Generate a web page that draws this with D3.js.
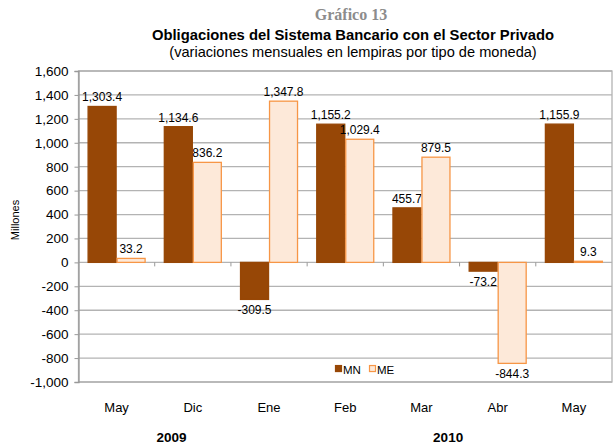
<!DOCTYPE html>
<html>
<head>
<meta charset="utf-8">
<script src="https://cdn.jsdelivr.net/npm/d3@7"></script>
<style>
  body { margin: 0; background: #fff; }
  svg { font-family: "Liberation Sans", Arial, sans-serif; }
</style>
</head>
<body>
<div id="chart"></div>
<script>
const months = ["May", "Dic", "Ene", "Feb", "Mar", "Abr", "May"];
const mnValues = [1303.4, 1134.6, -309.5, 1155.2, 455.7, -73.2, 1155.9];
const meValues = [33.2, 836.2, 1347.8, 1029.4, 879.5, -844.3, 9.3];
const yTicks = [-1000, -800, -600, -400, -200, 0, 200, 400, 600, 800, 1000, 1200, 1400, 1600];
// year labels, placed in category units along the x axis
const years = [{ label: "2009", at: 1.22 }, { label: "2010", at: 4.85 }];

const width = 616, height = 446;
const margin = { top: 71, right: 4, bottom: 64, left: 78.5 };
const w = width - margin.left - margin.right;
const h = height - margin.top - margin.bottom;

const colMN = "#974706", colMEfill = "#fde9d9", colMEstroke = "#f79646", grid = "#b3b3b3";

const locale = d3.formatLocale({ decimal: ".", thousands: ",", grouping: [3], currency: ["", ""], minus: "-" });

const svg = d3.select("#chart").append("svg")
    .attr("width", width)
    .attr("height", height);

// titles
svg.append("text").attr("x", 351).attr("y", 20).attr("text-anchor", "middle")
    .style("font-family", "'Liberation Serif', 'Times New Roman', serif")
    .style("font-weight", "bold").style("font-size", "16px").attr("fill", "#8c8c8c")
    .text("Gráfico 13");
svg.append("text").attr("x", 353).attr("y", 40).attr("text-anchor", "middle")
    .style("font-weight", "bold").style("font-size", "14.8px").attr("fill", "#000")
    .text("Obligaciones del Sistema Bancario con el Sector Privado");
svg.append("text").attr("x", 353).attr("y", 57).attr("text-anchor", "middle")
    .style("font-size", "14.6px").attr("fill", "#000")
    .text("(variaciones mensuales en lempiras por tipo de moneda)");

const g = svg.append("g").attr("transform", "translate(" + margin.left + "," + margin.top + ")");

const x = d3.scaleBand().domain(d3.range(months.length)).range([0, w]);
const y = d3.scaleLinear().domain([-1000, 1600]).range([h, 0]);
const bw = 29;
const pad = (x.bandwidth() - 2 * bw) / 2;

// gridlines
g.append("g").selectAll("line").data(yTicks).join("line")
    .attr("x1", 0).attr("x2", w)
    .attr("y1", d => y(d)).attr("y2", d => y(d))
    .attr("stroke", grid).attr("stroke-width", 1.3);

// frame right / top / bottom
g.append("rect").attr("x", 0).attr("y", 0).attr("width", w).attr("height", h)
    .attr("fill", "none").attr("stroke", grid).attr("stroke-width", 1.3);

// y axis
const yAxis = g.append("g")
    .call(d3.axisLeft(y).tickValues(yTicks).tickSize(4).tickPadding(6).tickFormat(locale.format(",")));
yAxis.select(".domain").attr("stroke", "#999").attr("stroke-width", 1.3);
yAxis.selectAll(".tick line").attr("stroke", "#999");
yAxis.selectAll("text").style("font-size", "13.5px").attr("fill", "#000");

// category ticks on zero line
g.append("g").selectAll("line").data(d3.range(1, months.length)).join("line")
    .attr("x1", d => x(d)).attr("x2", d => x(d))
    .attr("y1", y(0)).attr("y2", y(0) + 4)
    .attr("stroke", "#999");

// bars
const series = [
    { key: "MN", values: mnValues, off: 0, fill: colMN, stroke: colMN },
    { key: "ME", values: meValues, off: 1, fill: colMEfill, stroke: colMEstroke }
];
const fmt = locale.format(",.1f");

series.forEach(s => {
    const sg = g.append("g");
    sg.selectAll("rect").data(s.values).join("rect")
        .attr("x", (d, i) => x(i) + pad + s.off * bw + 0.5)
        .attr("width", bw - 1)
        .attr("y", d => y(Math.max(0, d)))
        .attr("height", d => Math.abs(y(d) - y(0)))
        .attr("fill", s.fill)
        .attr("stroke", s.stroke).attr("stroke-width", 1.3);
    sg.selectAll("text").data(s.values).join("text")
        .attr("x", (d, i) => x(i) + pad + s.off * bw + bw / 2)
        .attr("y", d => d >= 0 ? y(d) - 5 : y(d) + 15)
        .attr("text-anchor", "middle")
        .style("font-size", "12px").attr("fill", "#000")
        .text(d => fmt(d));
});

// x labels
g.append("g").selectAll("text").data(months).join("text")
    .attr("x", (d, i) => x(i) + x.bandwidth() / 2)
    .attr("y", h + 30)
    .attr("text-anchor", "middle")
    .style("font-size", "13px").attr("fill", "#000")
    .text(d => d);

// year labels
g.append("g").selectAll("text").data(years).join("text")
    .attr("x", d => d.at * x.step())
    .attr("y", h + 60)
    .attr("text-anchor", "middle")
    .style("font-size", "13.5px").style("font-weight", "bold").attr("fill", "#000")
    .text(d => d.label);

// legend
const leg = g.append("g").attr("transform", "translate(" + (335 - margin.left) + "," + (y(-900)) + ")");
[
    { label: "MN", fill: colMN, stroke: colMN, dx: 0 },
    { label: "ME", fill: colMEfill, stroke: colMEstroke, dx: 34 }
].forEach(l => {
    leg.append("rect").attr("x", l.dx + 0.5).attr("y", -4.5).attr("width", 6).attr("height", 6)
        .attr("fill", l.fill).attr("stroke", l.stroke).attr("stroke-width", 1.2);
    leg.append("text").attr("x", l.dx + 8).attr("y", 3.5)
        .style("font-size", "11.5px").attr("fill", "#000")
        .text(l.label);
});

// y axis title
svg.append("text")
    .attr("transform", "translate(19,220) rotate(-90)")
    .attr("text-anchor", "middle")
    .style("font-size", "11px").attr("fill", "#000")
    .text("Millones");
</script>
</body>
</html>
